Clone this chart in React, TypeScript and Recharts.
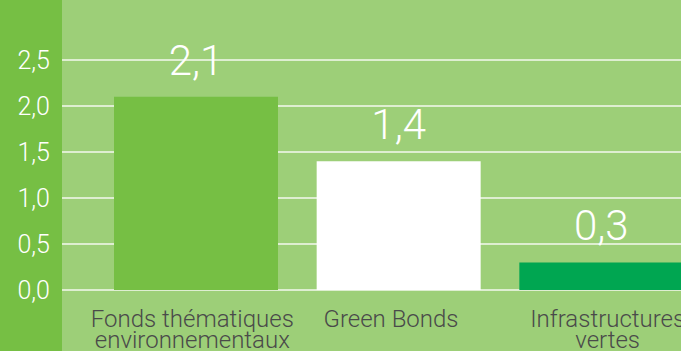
import { CSSProperties } from "react";
import { BarChart, Bar, XAxis, YAxis, CartesianGrid, Cell, LabelList } from "recharts";

const categories = ["Fonds thématiques|environnementaux", "Green Bonds", "Infrastructures|vertes"];
const values = [2.1, 1.4, 0.3];
const barColors = ["#76bf44", "#ffffff", "#00a651"];
const yTicks = [0, 0.5, 1, 1.5, 2, 2.5];

const data = categories.map((name, i) => ({ name, value: values[i] }));

const fmt = (v: number) => v.toFixed(1).replace(".", ",");

const FONT = "Roboto, 'Liberation Sans', sans-serif";

// small horizontal nudges so the labels sit as in the original layout
const tickShift = [-4, -8, 6];

function CategoryTick(props: any) {
  const { x, y, payload, index } = props;
  const lines = String(payload.value).split("|");
  const cx = x + (tickShift[index] || 0);
  return (
    <text
      x={cx}
      y={y}
      textAnchor="middle"
      fill="#4a4a4a"
      fontFamily={FONT}
      fontWeight={300}
      fontSize={24}
    >
      {lines.map((l, i) => (
        <tspan key={i} x={cx} y={y + 29 + i * 21}>
          {l}
        </tspan>
      ))}
    </text>
  );
}

export default function App() {
  const wrapStyle: CSSProperties = {
    position: "fixed",
    top: 0,
    left: 0,
    width: 681,
    height: 351,
    overflow: "hidden",
    background: "#9dcf78",
  };

  const stripStyle: CSSProperties = {
    position: "absolute",
    top: 0,
    left: 0,
    width: 62,
    height: 351,
    background: "#76bf44",
  };

  return (
    <div style={wrapStyle}>
      <div style={stripStyle} />
      <div style={{ position: "absolute", top: 0, left: 0 }}>
        <BarChart
          width={705}
          height={351}
          data={data}
          margin={{ top: 60, right: 0, bottom: 0, left: 0 }}
        >
          <CartesianGrid vertical={false} stroke="#f4f9ef" strokeWidth={1.5} />
          <YAxis
            domain={[0, 2.5]}
            ticks={yTicks}
            width={62}
            axisLine={false}
            tickLine={false}
            tickSize={0}
            tickMargin={12}
            tickFormatter={fmt}
            tick={{ fill: "#ffffff", fontSize: 25, fontFamily: FONT, fontWeight: 300 }}
          />
          <XAxis
            dataKey="name"
            height={61}
            axisLine={false}
            tickLine={false}
            interval={0}
            padding={{ left: 33, right: 2 }}
            tick={<CategoryTick />}
          />
          <Bar dataKey="value" barSize={164} isAnimationActive={false}>
            {data.map((d, i) => (
              <Cell key={d.name} fill={barColors[i]} />
            ))}
            <LabelList
              dataKey="value"
              position="top"
              offset={22}
              formatter={(v: any) => fmt(Number(v))}
              fill="#ffffff"
              fontSize={42}
              fontFamily={FONT}
              fontWeight={300}
            />
          </Bar>
        </BarChart>
      </div>
    </div>
  );
}
